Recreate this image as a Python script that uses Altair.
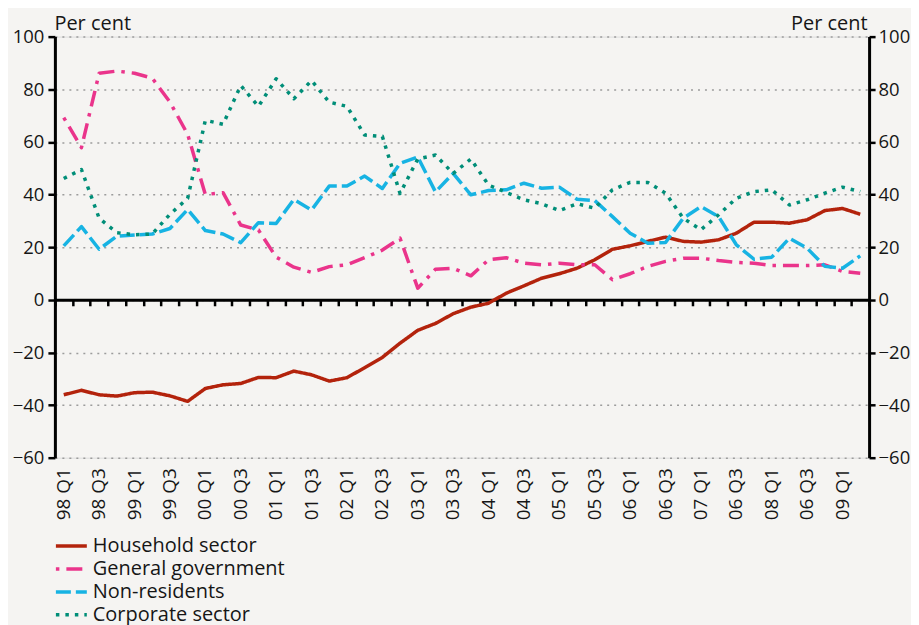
import json
import altair as alt
import pandas as pd

# ---------------- data ----------------
quarters = [
    "98 Q1", "98 Q2", "98 Q3", "98 Q4", "99 Q1", "99 Q2", "99 Q3", "99 Q4",
    "00 Q1", "00 Q2", "00 Q3", "00 Q4", "01 Q1", "01 Q2", "01 Q3", "01 Q4",
    "02 Q1", "02 Q2", "02 Q3", "02 Q4", "03 Q1", "03 Q2", "03 Q3", "03 Q4",
    "04 Q1", "04 Q2", "04 Q3", "04 Q4", "05 Q1", "05 Q2", "05 Q3", "05 Q4",
    "06 Q1", "06 Q2", "06 Q3", "06 Q4", "07 Q1", "07 Q2", "07 Q3", "07 Q4",
    "08 Q1", "08 Q2", "08 Q3", "08 Q4", "09 Q1", "09 Q2",
]

# tick labels exactly as printed (every second quarter)
tick_labels = [
    "98 Q1", "98 Q3", "99 Q1", "99 Q3", "00 Q1", "00 Q3", "01 Q1", "01 Q3",
    "02 Q1", "02 Q3", "03 Q1", "03 Q3", "04 Q1", "04 Q3", "05 Q1", "05 Q3",
    "06 Q1", "06 Q3", "07 Q1", "06 Q3", "08 Q1", "06 Q3", "09 Q1",
]

household = [
    -36.1, -34.4, -36.1, -36.6, -35.3, -35.1, -36.5, -38.6, -33.7, -32.3,
    -31.8, -29.5, -29.6, -27.1, -28.5, -30.9, -29.6, -25.8, -21.9, -16.5,
    -11.6, -9.0, -5.3, -2.8, -1.3, 2.5, 5.3, 8.2, 9.9, 12.0,
    15.2, 19.2, 20.5, 22.2, 23.8, 22.2, 21.9, 22.8, 25.3, 29.5,
    29.5, 29.1, 30.4, 33.9, 34.7, 32.5,
]
government = [
    69.2, 57.8, 86.1, 86.9, 86.1, 84.2, 75.1, 62.9, 40.0, 40.7,
    28.4, 26.5, 16.2, 12.4, 10.4, 12.6, 13.3, 16.0, 18.9, 23.4,
    4.4, 11.6, 12.0, 9.1, 15.2, 16.0, 13.9, 13.3, 13.9, 13.3,
    13.3, 7.6, 9.9, 12.7, 14.6, 15.8, 15.8, 14.9, 14.2, 13.9,
    13.0, 13.0, 13.0, 13.3, 10.8, 10.1,
]
non_residents = [
    20.5, 27.8, 19.2, 24.2, 24.6, 25.0, 27.1, 34.3, 26.3, 25.0,
    21.7, 29.3, 29.0, 38.1, 34.1, 43.2, 43.2, 47.0, 42.3, 51.8,
    54.3, 41.0, 48.0, 39.9, 41.5, 41.8, 44.3, 42.4, 42.8, 38.2,
    37.7, 31.6, 25.3, 21.5, 21.8, 31.0, 35.4, 31.6, 20.9, 15.4,
    16.2, 23.4, 19.6, 12.7, 12.0, 16.7,
]
corporate = [
    46.1, 49.5, 31.0, 25.5, 24.7, 25.0, 32.5, 38.5, 68.2, 66.7,
    81.4, 73.5, 84.0, 76.4, 83.3, 75.1, 73.5, 62.6, 62.1, 40.4,
    53.5, 55.0, 48.0, 53.5, 43.6, 40.8, 38.0, 36.5, 33.9, 36.5,
    34.8, 41.8, 44.6, 44.6, 40.5, 31.0, 26.6, 32.3, 38.6, 41.1,
    41.8, 36.0, 38.0, 40.5, 42.8, 41.1,
]

series_names = ["Household sector", "General government", "Non-residents", "Corporate sector"]
series_values = [household, government, non_residents, corporate]
series_colors = ["#B3230C", "#EA348B", "#17B3E3", "#008E78"]
series_dashes = [[1, 0], [3.5, 7, 16, 7], [15, 5], [3.5, 6]]

y_ticks = [-60, -40, -20, 0, 20, 40, 60, 80, 100]

# ---------------- table ----------------
rows = []
for name, vals in zip(series_names, series_values):
    for q, v in zip(quarters, vals):
        rows.append({"quarter": q, "series": name, "value": v})
df = pd.DataFrame(rows)

W, H = 816, 422
FONT = "Open Sans"
INK = "#161616"

label_list = [tick_labels[i // 2] if i % 2 == 0 else "" for i in range(len(quarters))]
label_expr = f"{json.dumps(label_list)}[indexof({json.dumps(quarters)}, datum.value)]"

x_scale = alt.Scale(type="band", domain=quarters, paddingInner=0, paddingOuter=0)
y_scale = alt.Scale(domain=[-60, 100], nice=False, zero=False)

legend = alt.Legend(
    title=None, orient="none", legendX=-1, legendY=499,
    symbolType="stroke", symbolSize=961, symbolStrokeWidth=3.5,
    labelFontSize=20, labelFont=FONT, labelColor=INK, labelOffset=4, labelLimit=0,
    clipHeight=23, rowPadding=0, padding=0,
)

x_label_axis = alt.Axis(
    orient="bottom", title=None, domain=False, ticks=False, tickSize=0, grid=False,
    labelAngle=270, labelAlign="right", labelBaseline="middle", labelPadding=10,
    labelFontSize=19, labelFont=FONT, labelColor=INK, labelOverlap=False,
    labelExpr=label_expr,
)

y_left_axis = alt.Axis(
    orient="left", values=y_ticks, title="Per cent", titleAngle=0, titleAlign="left",
    titleBaseline="alphabetic", titleX=-1, titleY=-7, titleFontSize=20,
    titleFontWeight="normal", titleFont=FONT, titleColor=INK,
    labelFontSize=18.5, labelFont=FONT, labelColor=INK, labelPadding=4,
    tickSize=7, tickWidth=2.5, tickColor="black", domainColor="black", domainWidth=3,
    grid=True, gridDash=[2, 5], gridColor="#9c9c9c", gridWidth=1.5,
)

lines = alt.Chart(df).mark_line(strokeWidth=3.5, strokeCap="butt", strokeJoin="round").encode(
    x=alt.X("quarter:O", scale=x_scale, axis=x_label_axis, sort=quarters),
    y=alt.Y("value:Q", scale=y_scale, axis=y_left_axis),
    color=alt.Color("series:N", scale=alt.Scale(domain=series_names, range=series_colors), legend=legend),
    strokeDash=alt.StrokeDash("series:N", scale=alt.Scale(domain=series_names, range=series_dashes), legend=legend),
)

x_tick_axis = alt.Axis(
    orient="bottom", title=None, labels=False, grid=False, domain=True,
    domainColor="black", domainWidth=3, ticks=True, tickSize=6, tickWidth=2.5,
    tickColor="black", tickBand="extent", offset=-H * 60 / 160,
)
y_right_axis = alt.Axis(
    orient="right", values=y_ticks, title="Per cent", titleAngle=0, titleAlign="right",
    titleBaseline="alphabetic", titleX=-2, titleY=-7, titleFontSize=20,
    titleFontWeight="normal", titleFont=FONT, titleColor=INK,
    labelFontSize=18.5, labelFont=FONT, labelColor=INK, labelPadding=3,
    tickSize=6, tickWidth=2.5, tickColor="black", domainColor="black", domainWidth=3,
    grid=False,
)

frame = alt.Chart(df).mark_point(opacity=0).encode(
    x=alt.X("quarter:O", scale=x_scale, axis=x_tick_axis, sort=quarters),
    y=alt.Y("value:Q", scale=y_scale, axis=y_right_axis),
)

chart = (
    alt.layer(lines, frame)
    .resolve_scale(x="independent", y="independent")
    .resolve_axis(x="independent", y="independent")
    .properties(
        width=W, height=H,
        padding={"left": 47, "top": 28, "right": 42, "bottom": 167},
        autosize=alt.AutoSizeParams(type="none"),
        background="#F5F4F2",
    )
    .configure_view(stroke=None)
    .configure(font=FONT)
)

chart.save("out.html", embed_options={"renderer": "svg", "actions": False})
